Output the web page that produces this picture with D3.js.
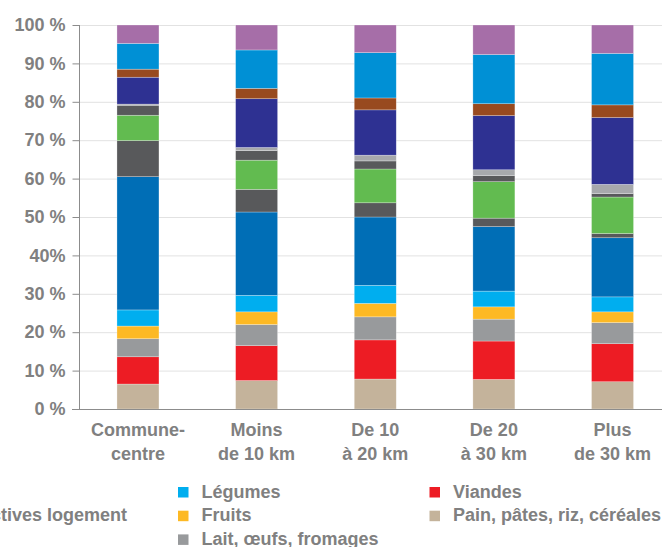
<!DOCTYPE html>
<html>
<head>
<meta charset="utf-8">
<script src="https://cdn.jsdelivr.net/npm/d3@7"></script>
<style>
  body { margin: 0; background: #fff; }
  svg { display: block; font-family: "Liberation Sans", Arial, sans-serif; font-weight: bold; }
</style>
</head>
<body>
<svg id="chart" width="662" height="547"></svg>
<script>
// categories (distance to the commune-centre)
const categories = [
    ['Commune-', 'centre'],
    ['Moins', 'de 10 km'],
    ['De 10', 'à 20 km'],
    ['De 20', 'à 30 km'],
    ['Plus', 'de 30 km']
];

// series, bottom of the stack first (values in %)
const pain       = [6.5, 7.4, 7.8, 7.7, 7.1];
const viandes    = [7.1, 9.1, 10.2, 10.0, 9.9];
const lait       = [4.7, 5.5, 6.0, 5.7, 5.5];
const fruits     = [3.3, 3.3, 3.5, 3.2, 2.8];
const legumes    = [4.2, 4.3, 4.7, 4.1, 3.9];
const logement   = [34.7, 21.7, 17.8, 16.8, 15.4];
const collectifs = [9.4, 5.9, 3.7, 2.2, 1.1];
const loisirs    = [6.6, 7.6, 8.8, 9.5, 9.5];
const poissons   = [2.6, 2.5, 2.1, 1.6, 0.9];
const huiles     = [0.3, 0.8, 1.5, 1.5, 2.4];
const plats      = [7.0, 12.7, 11.8, 14.1, 17.4];
const sucres     = [2.1, 2.7, 3.1, 3.1, 3.3];
const boissons   = [6.7, 10.0, 11.8, 12.8, 13.4];
const autres     = [4.8, 6.5, 7.2, 7.7, 7.4];

const seriesNames = [
    'Pain, pâtes, riz, céréales', 'Viandes', 'Lait, œufs, fromages', 'Fruits', 'Légumes',
    'Logement', 'Dépenses collectives logement', 'Restauration', 'Poissons', 'Huiles, graisses',
    'Plats préparés', 'Sucres, confiseries', 'Boissons', 'Autres'
];
const seriesValues = [pain, viandes, lait, fruits, legumes, logement, collectifs, loisirs,
    poissons, huiles, plats, sucres, boissons, autres];
const seriesColors = ['#c4b39b', '#ed1c24', '#989a9c', '#fdb924', '#00aeef', '#006eb6',
    '#58595b', '#62bb50', '#58595b', '#a7a9ac', '#2e3192', '#984a1f', '#0090d5', '#a66ea8'];

const yTicks = [0, 10, 20, 30, 40, 50, 60, 70, 80, 90, 100];
const yTickLabels = ['0 %', '10 %', '20 %', '30 %', '40%', '50 %', '60 %', '70 %', '80 %', '90 %', '100 %'];

const textColor = '#808080';
const W = 662;

const table = categories.map((c, i) => {
    let row = { cat: c.join(' ') };
    seriesNames.forEach((n, j) => { row[n] = seriesValues[j][i]; });
    return row;
});

const svg = d3.select('#chart');

const x = d3.scaleBand()
    .domain(table.map(d => d.cat))
    .range([79, 671.5])
    .paddingInner(0.646)
    .paddingOuter(0.32);
const y = d3.scaleLinear().domain([0, 100]).range([409, 25]);

// grid
svg.append('g').selectAll('line').data(yTicks.slice(1)).join('line')
    .attr('x1', 79).attr('x2', W)
    .attr('y1', d => y(d) + 0.5).attr('y2', d => y(d) + 0.5)
    .attr('stroke', '#e2e2e2').attr('stroke-width', 1);

// bars
const stacked = d3.stack().keys(seriesNames)(table);
const color = d3.scaleOrdinal().domain(seriesNames).range(seriesColors);

svg.append('g').selectAll('g').data(stacked).join('g')
    .attr('fill', d => color(d.key))
    .selectAll('rect').data(d => d).join('rect')
    .attr('x', d => x(d.data.cat))
    .attr('width', x.bandwidth())
    .attr('y', d => y(d[1]))
    .attr('height', d => y(d[0]) - y(d[1]))
    .attr('stroke', 'rgba(255,255,255,0.45)')
    .attr('stroke-width', 0.6);

// y axis
const yAxis = svg.append('g')
    .attr('transform', 'translate(79.5,0)')
    .call(d3.axisLeft(y).tickValues(yTicks).tickSize(7).tickPadding(7)
        .tickFormat((d, i) => yTickLabels[i]));
yAxis.select('.domain').attr('stroke', '#8c8c8c').attr('d', 'M0,' + y(100) + 'V' + y(0));
yAxis.selectAll('.tick line').attr('stroke', '#8c8c8c');
yAxis.selectAll('.tick text')
    .attr('fill', textColor)
    .style('font-size', '18px')
    .style('font-weight', 'bold')
    .style('font-family', '"Liberation Sans", Arial, sans-serif');

// baseline
svg.append('line')
    .attr('x1', 72).attr('x2', W)
    .attr('y1', y(0) + 0.5).attr('y2', y(0) + 0.5)
    .attr('stroke', '#8c8c8c').attr('stroke-width', 1.2);

// x labels
const xl = svg.append('g').selectAll('text').data(table).join('text')
    .attr('x', d => x(d.cat) + x.bandwidth() / 2)
    .attr('y', 436)
    .attr('text-anchor', 'middle')
    .attr('fill', textColor)
    .style('font-size', '18px');
xl.each(function (d, i) {
    d3.select(this).selectAll('tspan').data(categories[i]).join('tspan')
        .attr('x', x(d.cat) + x.bandwidth() / 2)
        .attr('dy', (t, k) => k === 0 ? 0 : 24)
        .text(t => t);
});

// legend: top of stack first, columns of 3 rows
const rows = 3;
const legendItems = seriesNames.map((n, i) => ({ name: n, color: seriesColors[i] })).reverse()
    .map((d, i) => ({ ...d, col: Math.floor(i / rows), row: i % rows }));
const cols = d3.groups(legendItems, d => d.col);
const legend = svg.append('g').style('font-size', '18px');
const baseCol = 3, baseX = 178, colStep = 251.5, textOff = 23.5, gap = 51;
const colX = {};
cols.forEach(([c]) => { if (c >= baseCol) colX[c] = baseX + (c - baseCol) * colStep; });

// measure text to place the columns on the left
const probe = legend.append('text');
const textW = s => { probe.text(s); return probe.node().getComputedTextLength(); };
for (let c = baseCol - 1; c >= 0; c--) {
    const items = cols.find(g => g[0] === c)[1];
    const w = d3.max(items, d => textW(d.name));
    colX[c] = colX[c + 1] - gap - w - textOff;
}
probe.remove();

const li = legend.selectAll('g').data(legendItems).join('g')
    .attr('transform', d => 'translate(' + colX[d.col] + ',' + (497.5 + d.row * 23.7) + ')');
li.append('rect').attr('x', 0).attr('y', -10.5).attr('width', 10.5).attr('height', 10.5).attr('fill', d => d.color);
li.append('text').attr('x', textOff).attr('y', 0).attr('fill', textColor).text(d => d.name);
</script>
</body>
</html>
